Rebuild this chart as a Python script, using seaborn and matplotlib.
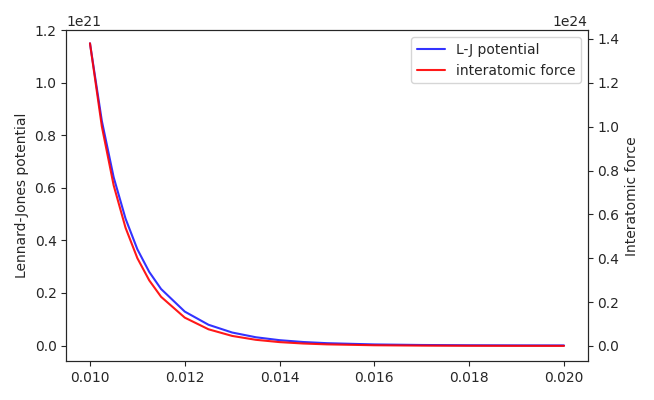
import matplotlib
matplotlib.use("Agg")
import matplotlib.pyplot as plt
import seaborn as sns
import pandas as pd

# values
r = [0.0100, 0.01025, 0.0105, 0.01075, 0.0110, 0.01125, 0.0115, 0.0120, 0.0125,
     0.0130, 0.0135, 0.0140, 0.0145, 0.0150, 0.0160, 0.0170, 0.0180, 0.0190, 0.0200]
potential = [1.150, 0.855, 0.640, 0.483, 0.366, 0.280, 0.215, 0.129, 0.0790,
             0.0494, 0.0314, 0.0203, 0.0133, 0.00887, 0.00409, 0.00198, 0.00099,
             0.00052, 0.00028]  # x 1e21
force = [1.380, 1.001, 0.732, 0.539, 0.400, 0.299, 0.224, 0.129, 0.0759,
         0.0456, 0.0279, 0.0174, 0.0110, 0.00709, 0.00306, 0.0014, 0.00066,
         0.00033, 0.00017]  # x 1e24

df = pd.DataFrame({"r": r, "V": [v * 1e21 for v in potential],
                   "F": [f * 1e24 for f in force]})

sns.set_style("ticks")
fig, ax = plt.subplots(figsize=(6.54, 4), dpi=100)
ax2 = ax.twinx()

sns.lineplot(data=df, x="r", y="V", ax=ax, color="blue", alpha=0.8, label="L-J potential", legend=False)
sns.lineplot(data=df, x="r", y="F", ax=ax2, color="red", alpha=0.9, label="interatomic force", legend=False)

ax.set_ylim(-0.06e21, 1.2e21)
ax2.set_ylim(-0.07e24, 1.44e24)
ax.set_xticks([0.010, 0.012, 0.014, 0.016, 0.018, 0.020])
ax.set_xlabel("")
ax.set_ylabel("Lennard-Jones potential")
ax2.set_ylabel("Interatomic force")

h1, l1 = ax.get_legend_handles_labels()
h2, l2 = ax2.get_legend_handles_labels()
ax2.legend(h1 + h2, l1 + l2, loc="upper right")

fig.tight_layout()
fig.savefig("out.png", dpi=100)
